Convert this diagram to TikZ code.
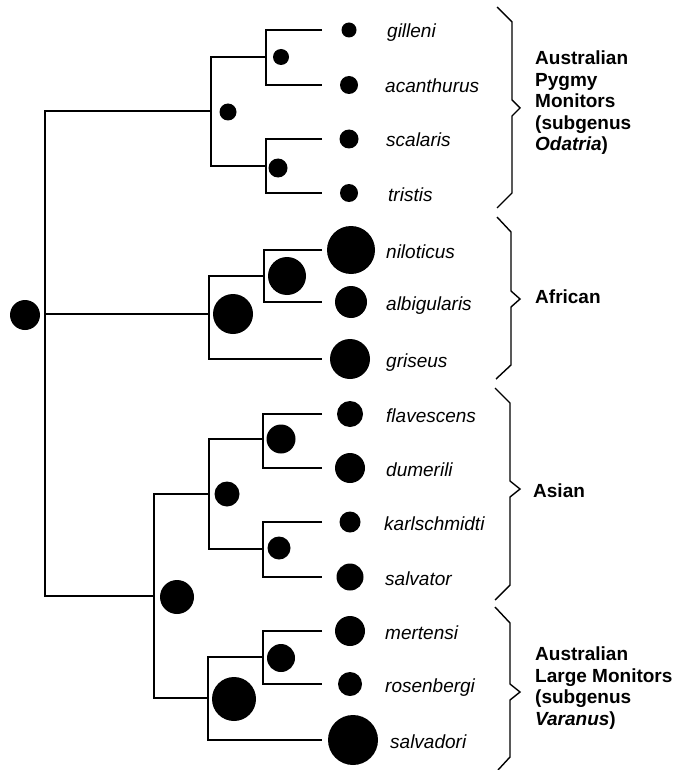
\documentclass[tikz,border=0pt]{standalone}
\usepackage{fontspec}
\setmainfont{Liberation Sans}
\usetikzlibrary{positioning}

\begin{document}
\begin{tikzpicture}[
    x=1pt, y=-1pt,
    branch/.style={line width=1.7pt, line join=miter},
    dot/.style={circle, fill=black, inner sep=0pt},
    species/.style={anchor=base west, inner sep=0pt,
                    font=\fontsize{19}{21.5}\selectfont\itshape},
    group/.style={anchor=west, align=left, inner sep=0pt,
                  font=\fontsize{19}{21.5}\selectfont\bfseries},
    bracket/.style={line width=1.4pt, line join=miter}
]
\useasboundingbox (0,0) rectangle (676,770);

% Tips: y / dot x / dot diameter / label x / name
\foreach \y/\x/\d/\l/\n [count=\i] in {30/349/15/387/gilleni, 85/349/18/385/acanthurus,
    139/349/19/386/scalaris, 193/349/18/388/tristis, 250/351/48/386/niloticus,
    302/351/32/386/albigularis, 359/350/40/386/griseus, 414/350/26/386/flavescens,
    468/350/30/386/dumerili, 522/350/21/384/karlschmidti, 577/350/27/385/salvator,
    631/350/30/385/mertensi, 684/350/24/385/rosenbergi, 740/353/50/390/salvadori} {
  \coordinate (e\i) at (322,\y);
  \node[dot, minimum size=\d pt] (d\i) at (\x,\y) {};
  \node[species] (s\i) at (\l,\y+8) {\n};
}

% Internal nodes
\coordinate (root) at (45,314);
\coordinate (pyg)  at (211,111);
\coordinate (pygA) at (266,57);
\coordinate (pygB) at (266,166);
\coordinate (afr)  at (209,314);
\coordinate (afrA) at (264,276);
\coordinate (big)  at (154,596);
\coordinate (asi)  at (209,494);
\coordinate (asiA) at (263,439);
\coordinate (asiB) at (263,549);
\coordinate (aus)  at (208,698);
\coordinate (ausA) at (263,657);

% Branches
\draw[branch] (e1) -| (pygA) |- (e2);
\draw[branch] (e3) -| (pygB) |- (e4);
\draw[branch] (pygA) -| (pyg) |- (pygB);
\draw[branch] (e5) -| (afrA) |- (e6);
\draw[branch] (afrA) -| (afr) |- (e7);
\draw[branch] (e8) -| (asiA) |- (e9);
\draw[branch] (e10) -| (asiB) |- (e11);
\draw[branch] (asiA) -| (asi) |- (asiB);
\draw[branch] (e12) -| (ausA) |- (e13);
\draw[branch] (ausA) -| (aus) |- (e14);
\draw[branch] (asi) -| (big) |- (aus);
\draw[branch] (pyg) -| (root) |- (big);
\draw[branch] (root) -- (afr);

% Node dots
\node[dot, minimum size=30pt] (rootdot) at (25,315) {};
\node[dot, minimum size=17pt] (pygdot)  at (228,112) {};
\node[dot, minimum size=16pt] (pygAdot) at (281,57) {};
\node[dot, minimum size=19pt] (pygBdot) at (278,168) {};
\node[dot, minimum size=40pt] (afrdot)  at (233,314) {};
\node[dot, minimum size=38pt] (afrAdot) at (287,276) {};
\node[dot, minimum size=25pt] (asidot)  at (227,494) {};
\node[dot, minimum size=29pt] (asiAdot) at (281,439) {};
\node[dot, minimum size=23pt] (asiBdot) at (279,548) {};
\node[dot, minimum size=34pt] (bigdot)  at (177,597) {};
\node[dot, minimum size=44pt] (ausdot)  at (234,699) {};
\node[dot, minimum size=28pt] (ausAdot) at (281,658) {};

% Brackets
\draw[bracket] (497,7) -- (512,22) -- (512,100) -- (520,108) -- (512,116) -- (512,193) -- (497,208);
\draw[bracket] (497,217) -- (511,232) -- (511,291) -- (520,299) -- (511,307) -- (511,365) -- (496,379);
\draw[bracket] (495,388) -- (510,403) -- (510,481) -- (520,489) -- (510,497) -- (510,585) -- (495,600);
\draw[bracket] (495,607) -- (510,623) -- (510,684) -- (520,692) -- (510,700) -- (510,757) -- (498,770);

% Group labels
\node[group] (pygmy) at (535,103) {Australian\\Pygmy\\Monitors\\(subgenus\\\textit{Odatria})};
\node[group, anchor=base west] (african) at (535,303) {African};
\node[group, anchor=base west] (asian) at (533,497) {Asian};
\node[group] (large) at (535,688) {Australian\\Large Monitors\\(subgenus\\\textit{Varanus})};

\end{tikzpicture}
\end{document}
